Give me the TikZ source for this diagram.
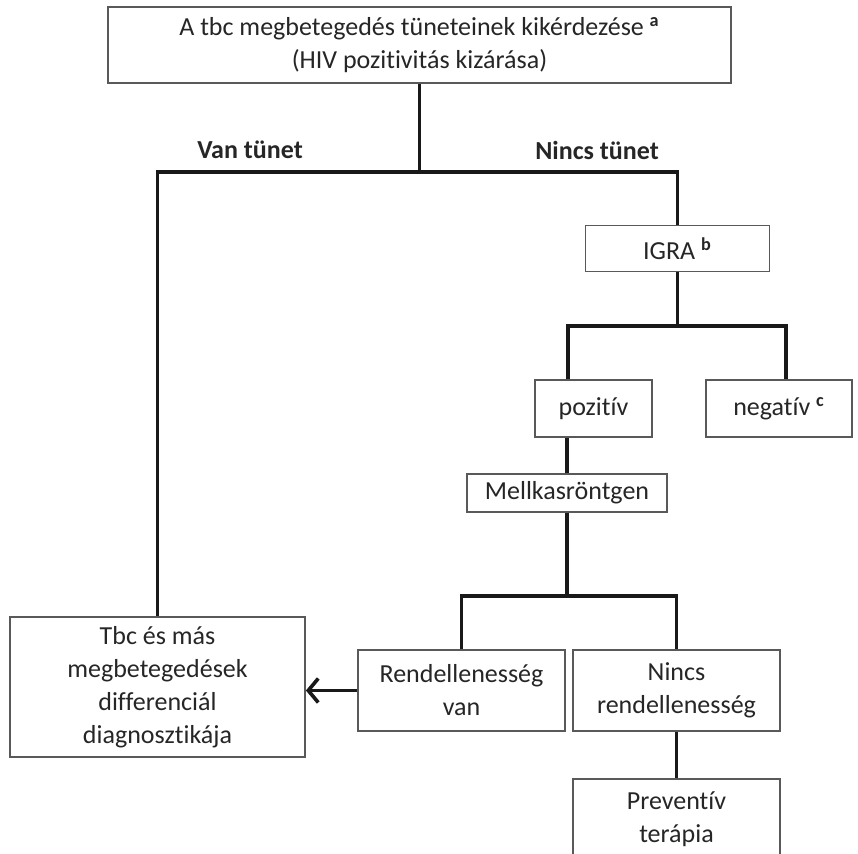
\documentclass[tikz,border=0pt]{standalone}
\usepackage{fontspec}
\setmainfont{Carlito}[Ligatures={NoCommon}]
\usetikzlibrary{arrows.meta,positioning}

\begin{document}
\begin{tikzpicture}[
    x=0.5pt, y=-0.5pt,
    font=\fontsize{13}{16.5}\selectfont,
    basebox/.style={
      rectangle, draw=black!65, line width=0.9pt, align=center,
      text=black!85, inner sep=0pt, fill=white
    },
    conn/.style={line width=1.6pt, draw=black!90},
    arr/.style={conn, -{Straight Barb[length=5pt, width=12pt, line width=1.8pt]}},
    lbl/.style={font=\fontsize{13}{16.5}\selectfont\bfseries, text=black!85}
  ]
    \useasboundingbox (0,0) rectangle (858,854);

    \node[basebox, minimum width=311.5pt, minimum height=38pt] (top) at (419.5,45)
      {A tbc megbetegedés tüneteinek kikérdezése \textsuperscript{\bfseries a}\\(HIV pozitivitás kizárása)};
    \node[basebox, minimum width=92pt, minimum height=23pt] (igra) at (677.5,248.5)
      {IGRA \textsuperscript{\bfseries b}};
    \node[basebox, minimum width=58.5pt, minimum height=28.5pt] (poz) at (593.5,408.5) {pozitív};
    \node[basebox, minimum width=73pt, minimum height=28.5pt] (neg) at (779,408.5)
      {negatív \textsuperscript{\bfseries c}};
    \node[basebox, minimum width=100pt, minimum height=19pt] (mell) at (567,493) {Mellkasröntgen};
    \node[basebox, minimum width=147.5pt, minimum height=70pt] (diag) at (157.5,687)
      {Tbc és más\\megbetegedések\\differenciál\\diagnosztikája};
    \node[basebox, minimum width=103.5pt, minimum height=40.5pt] (rend) at (461.5,690.5)
      {Rendellenesség\\van};
    \node[basebox, minimum width=103.5pt, minimum height=40.5pt] (nincs) at (676.5,690.5)
      {Nincs\\rendellenesség};
    \node[basebox, minimum width=103.5pt, minimum height=40.5pt] (prev) at (676.5,819.5)
      {Preventív\\terápia};

    \node[lbl] (van) at (250,150) {Van tünet};
    \node[lbl] (nincstunet) at (597,150) {Nincs tünet};

    % branching points
    \coordinate (s1) at (419.5,172);
    \coordinate (s2) at (677.5,326);
    \coordinate (p2) at (568,326);
    \coordinate (n2) at (786,326);
    \coordinate (s3) at (567,596);

    \draw[conn] (top.south) -- (s1);
    \draw[conn] (diag.north) |- (s1) -| (igra.north);
    \draw[conn] (igra.south) -- (s2);
    \draw[conn] (p2 |- poz.north) -- (p2) -- (n2) -- (n2 |- neg.north);
    \draw[conn] (mell.north) -- (mell.north |- poz.south);
    \draw[conn] (mell.south) -- (s3);
    \draw[conn] (rend.north) |- (s3) -| (nincs.north);
    \draw[conn] (nincs.south) -- (prev.north);
    \draw[arr] (rend.west) -- (diag.east |- rend.west);
  \end{tikzpicture}
\end{document}
